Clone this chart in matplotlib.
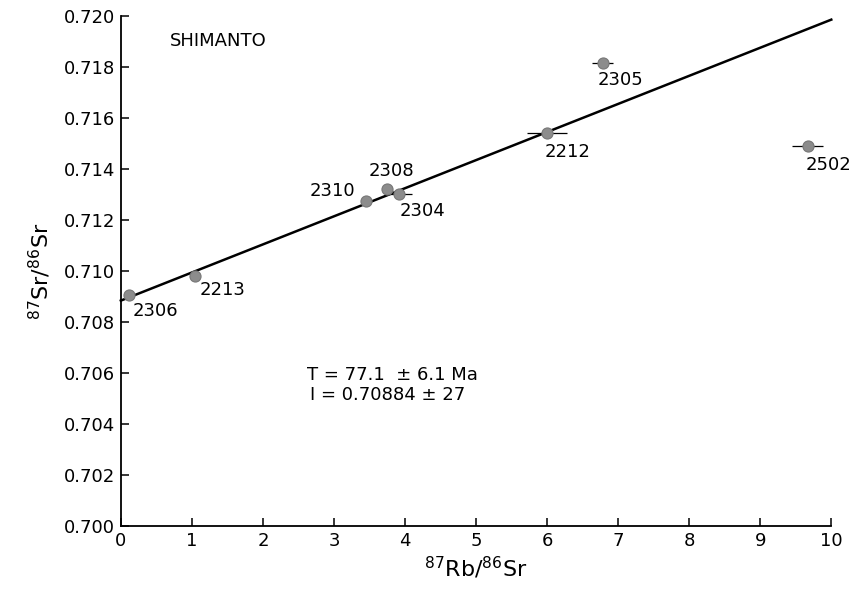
import numpy as np
import matplotlib
matplotlib.use('Agg')
import matplotlib.pyplot as plt

plt.rcParams['font.family'] = ['DejaVu Sans']
plt.rcParams['mathtext.fontset'] = 'dejavusans'

# sample data
samples = ['2306', '2213', '2310', '2308', '2304', '2212', '2305', '2502']
rb_sr = [0.12, 1.05, 3.45, 3.74, 3.91, 6.00, 6.78, 9.67]
sr_sr = [0.70905, 0.70980, 0.71275, 0.71322, 0.71301, 0.71540, 0.71817, 0.71491]
rb_err = [0.05, 0.05, 0.05, 0.05, 0.19, 0.28, 0.15, 0.22]

# label anchors (left/right edge, vertical centre)
label_x = [0.17, 1.11, 3.30, 3.49, 3.92, 5.97, 6.71, 9.64]
label_y = [0.70844, 0.70925, 0.71315, 0.71393, 0.71236, 0.71468, 0.71749, 0.71416]
label_ha = ['left', 'left', 'right', 'left', 'left', 'left', 'left', 'left']

# isochron line
iso_x = [0.0, 10.0]
iso_y = [0.70884, 0.71986]

fig = plt.figure(figsize=(8.57, 5.95), dpi=100)
ax = fig.add_axes([0.141, 0.116, 0.829, 0.857])

ax.plot(iso_x, iso_y, color='k', lw=1.8, zorder=2, clip_on=False)
ax.errorbar(rb_sr, sr_sr, xerr=rb_err, fmt='none', ecolor='k', elinewidth=0.9,
            capsize=0, zorder=1)
ax.plot(rb_sr, sr_sr, 'o', ms=8, mfc='#8c8c8c', mec='#777777', mew=0.8,
        zorder=3, clip_on=False)

for s, x, y, ha in zip(samples, label_x, label_y, label_ha):
    ax.text(x, y, s, ha=ha, va='center', fontsize=13)

ax.text(0.69, 0.71903, 'SHIMANTO', ha='left', va='center', fontsize=13)
ax.text(2.62, 0.70592, 'T = 77.1  \u00b1 6.1 Ma', ha='left', va='center', fontsize=13)
ax.text(2.66, 0.70514, 'I = 0.70884 \u00b1 27', ha='left', va='center', fontsize=13)

ax.set_xlim(0, 10)
ax.set_ylim(0.700, 0.720)
ax.set_xticks(np.arange(0, 11, 1))
ax.set_yticks(np.arange(0.700, 0.7201, 0.002))
ax.set_yticklabels([f'{v:.3f}' for v in np.arange(0.700, 0.7201, 0.002)])

for side in ['top', 'right']:
    ax.spines[side].set_visible(False)
for side in ['left', 'bottom']:
    ax.spines[side].set_linewidth(1.3)
ax.tick_params(direction='in', length=6, width=1.1, labelsize=13, pad=4)

ax.set_xlabel(r'$^{87}\mathrm{Rb}/^{86}\mathrm{Sr}$', fontsize=16, labelpad=4)
ax.set_ylabel(r'$^{87}\mathrm{Sr}/^{86}\mathrm{Sr}$', fontsize=16, labelpad=8)

fig.savefig('out.png', dpi=100)
